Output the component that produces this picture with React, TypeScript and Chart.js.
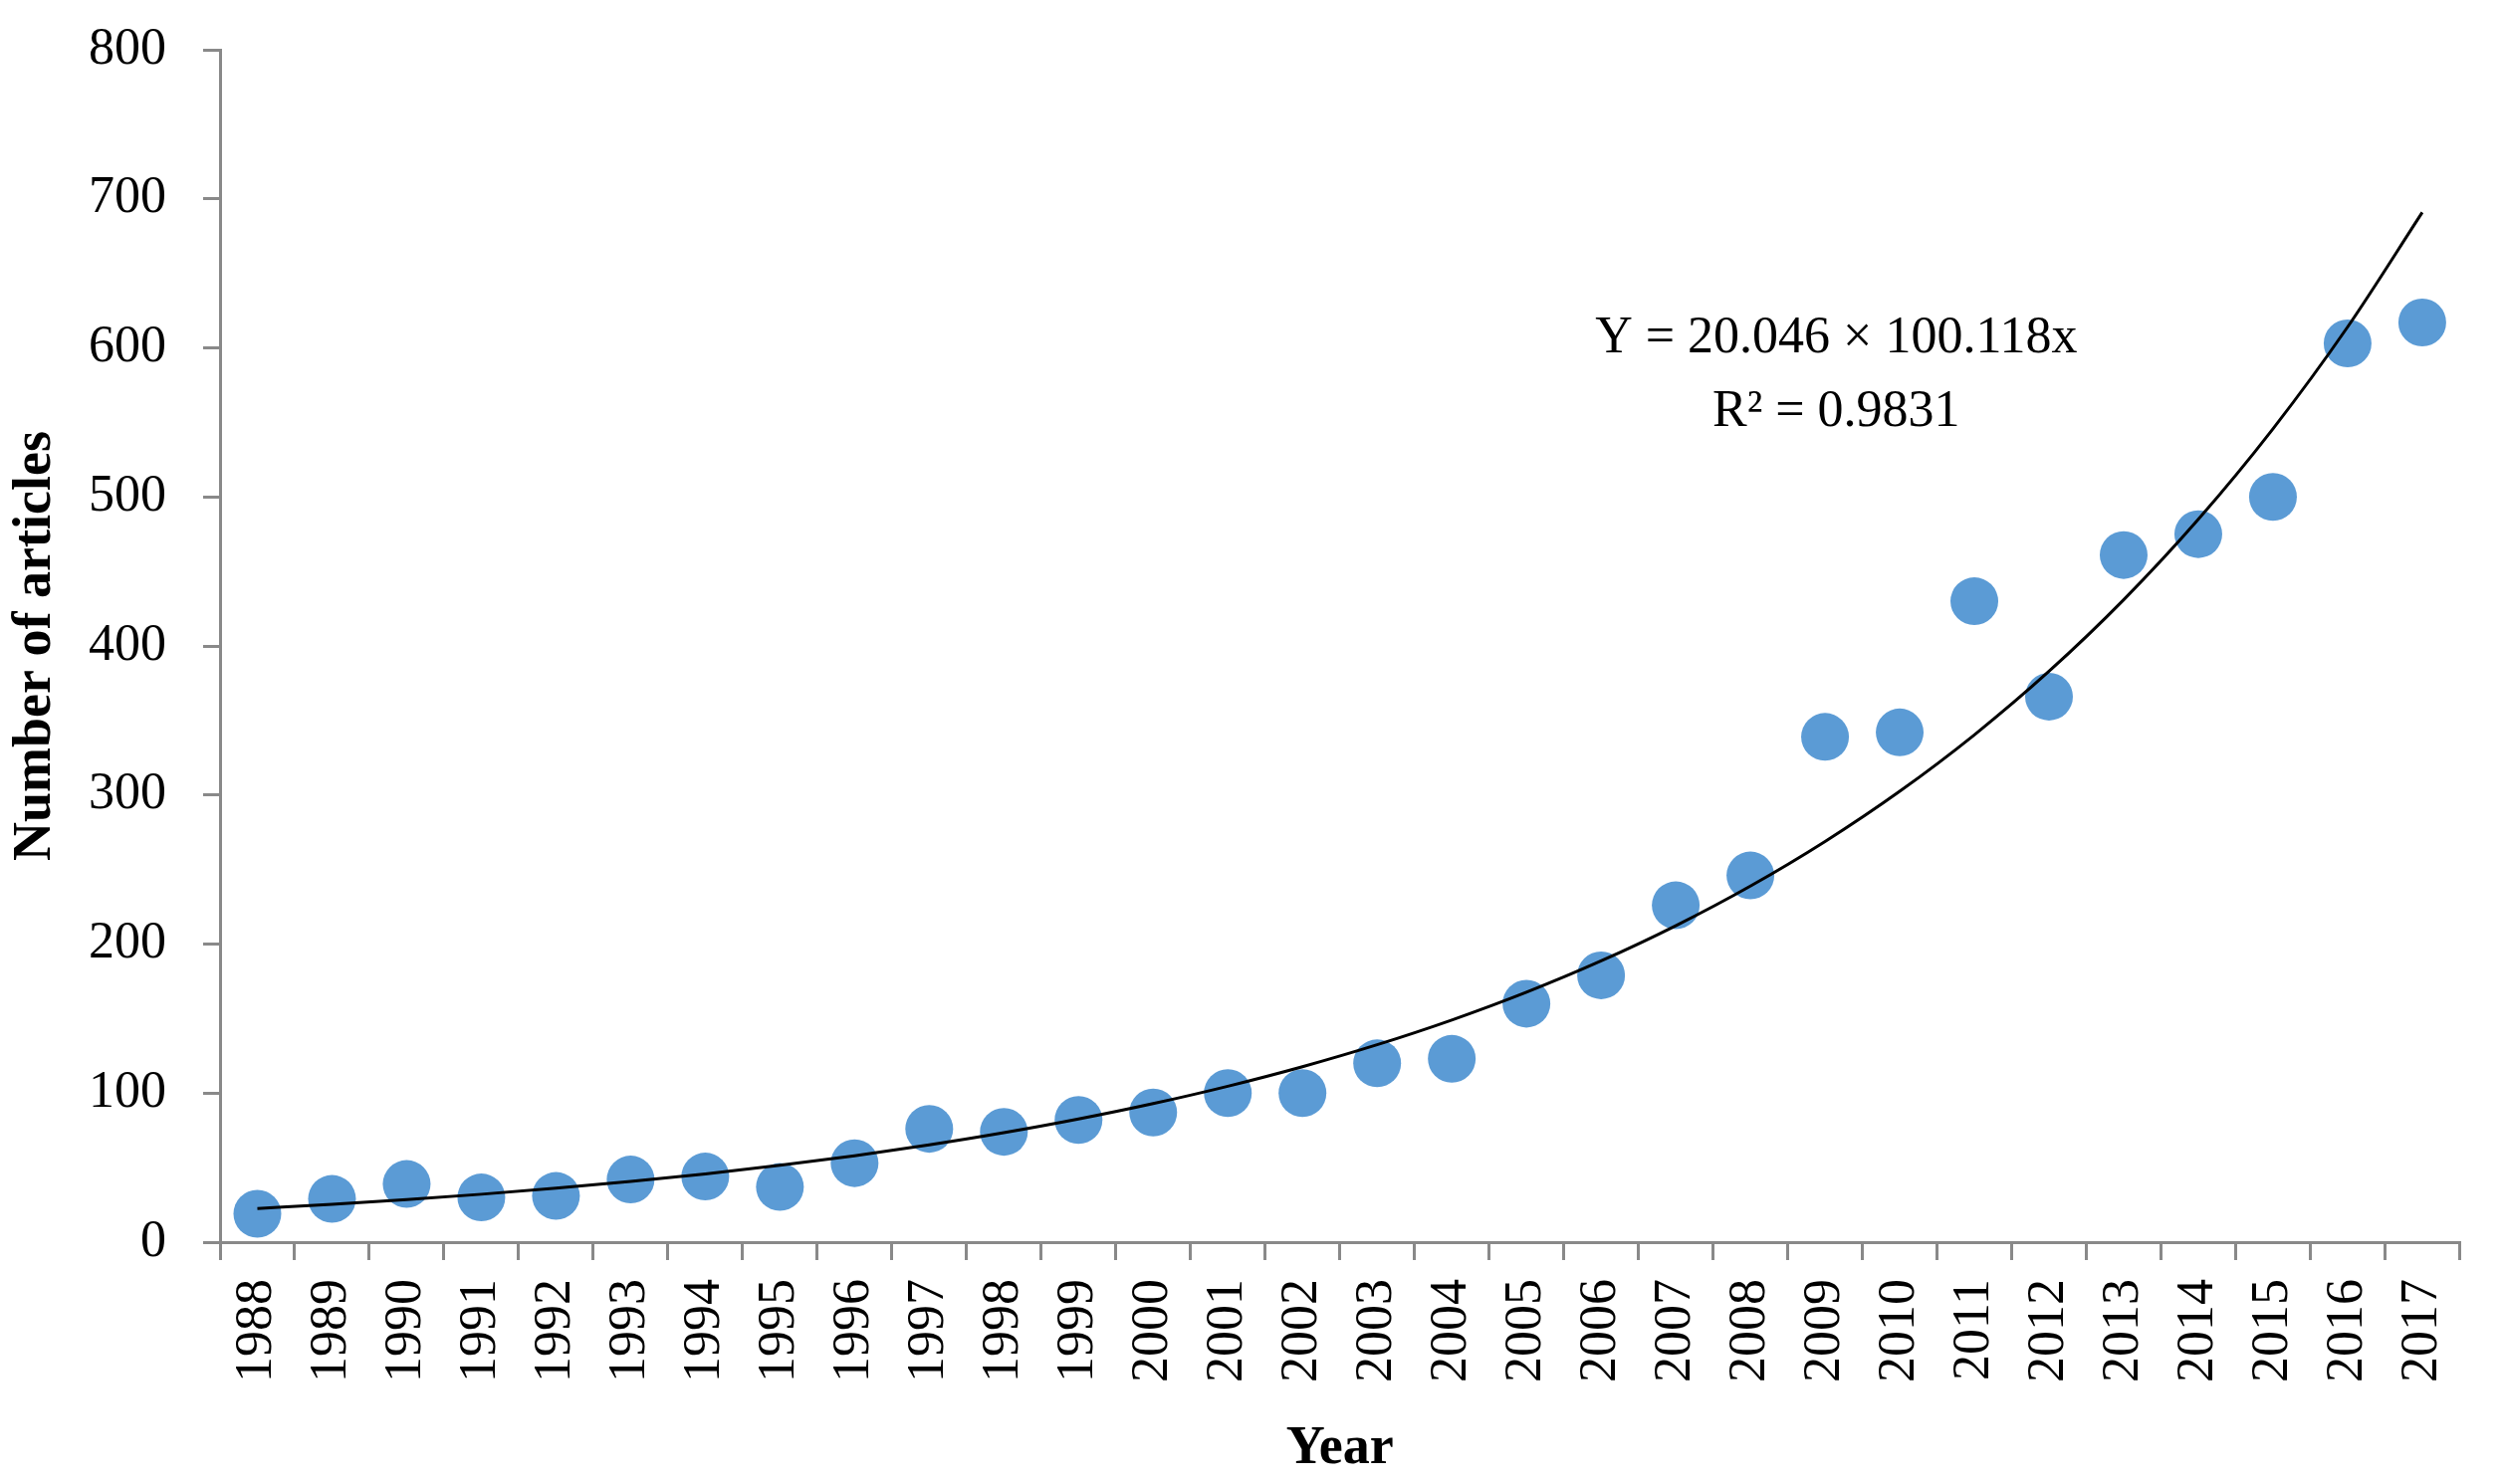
import { useEffect, useRef } from 'react';
import { Chart, registerables } from 'chart.js';

Chart.register(...registerables);

const years = [
  '1988', '1989', '1990', '1991', '1992', '1993', '1994', '1995', '1996', '1997',
  '1998', '1999', '2000', '2001', '2002', '2003', '2004', '2005', '2006', '2007',
  '2008', '2009', '2010', '2011', '2012', '2013', '2014', '2015', '2016', '2017',
];
const articles = [
  19, 29, 39, 30, 31, 42, 44, 37, 53, 76,
  74, 82, 87, 100, 100, 120, 123, 160, 179, 226,
  246, 339, 342, 430, 366, 461, 475, 500, 603, 617,
];
const yTicks = [0, 100, 200, 300, 400, 500, 600, 700, 800];

// exponential trend as printed on the chart (x = 1 for the first year)
const trendA = 20.046;
const trendB = 0.118;
const trend = years.map((_, i) => trendA * Math.exp(trendB * (i + 1)));

const equationLines = ['Y = 20.046 × 100.118x', 'R² = 0.9831'];
const equationAt = { x: 21.15, y: [606, 557] };

const serif = 'Liberation Serif, Times New Roman, serif';
const axisGray = '#898989';

const equationPlugin = {
  id: 'equation',
  afterDatasetsDraw(chart: Chart) {
    const { ctx, scales } = chart;
    const x = scales.x.getPixelForValue(equationAt.x);
    ctx.save();
    ctx.font = `52px ${serif}`;
    ctx.fillStyle = '#000';
    ctx.textAlign = 'center';
    ctx.textBaseline = 'middle';
    equationLines.forEach((t, i) => {
      ctx.fillText(t, x, scales.y.getPixelForValue(equationAt.y[i]));
    });
    ctx.restore();
  },
};

export default function App() {
  const canvasRef = useRef<HTMLCanvasElement>(null);
  const chartRef = useRef<Chart | null>(null);

  useEffect(() => {
    document.body.style.margin = '0';
    document.body.style.overflow = 'hidden';
    if (!canvasRef.current) return;
    chartRef.current?.destroy();
    chartRef.current = new Chart(canvasRef.current, {
      type: 'line',
      data: {
        labels: years,
        datasets: [
          {
            label: 'Trend',
            data: trend,
            borderColor: '#000',
            borderWidth: 3,
            pointRadius: 0,
            cubicInterpolationMode: 'monotone',
            fill: false,
            order: 0,
          },
          {
            label: 'Number of articles',
            data: articles,
            showLine: false,
            pointRadius: 24,
            pointBackgroundColor: '#5B9BD5',
            pointBorderWidth: 0,
            order: 1,
          },
        ],
      },
      options: {
        responsive: true,
        maintainAspectRatio: false,
        animation: false,
        devicePixelRatio: 1,
        layout: { padding: { top: 50, right: 42, left: 0, bottom: 0 } },
        plugins: { legend: { display: false }, tooltip: { enabled: false } },
        scales: {
          x: {
            offset: true,
            grid: { offset: true, drawOnChartArea: false, drawTicks: true, tickLength: 18, color: axisGray, lineWidth: 3 },
            border: { display: true, color: axisGray, width: 3 },
            ticks: {
              font: { family: serif, size: 52 },
              color: '#000',
              maxRotation: 90,
              minRotation: 90,
              padding: 19,
              autoSkip: false,
            },
            title: {
              display: true,
              text: 'Year',
              color: '#000',
              font: { family: serif, size: 54, weight: 'bold', lineHeight: 1 },
              padding: { top: 0, bottom: 8 },
            },
            afterFit: (s: any) => { s.height = 243; },
          },
          y: {
            min: 0,
            max: 800,
            afterBuildTicks: (s: any) => { s.ticks = yTicks.map((v) => ({ value: v })); },
            grid: { drawOnChartArea: false, drawTicks: true, tickLength: 17, color: axisGray, lineWidth: 3 },
            border: { display: true, color: axisGray, width: 3 },
            ticks: {
              font: { family: serif, size: 52 },
              color: '#000',
              padding: 37,
            },
            title: {
              display: true,
              text: 'Number of articles',
              color: '#000',
              font: { family: serif, size: 54, weight: 'bold', lineHeight: 1.2 },
              padding: { top: 4, bottom: 0 },
            },
            afterFit: (s: any) => {
              s.width = 221;
              s.paddingTop = 0;
              s.paddingBottom = 0;
            },
          },
        },
      },
      plugins: [equationPlugin],
    });
    return () => { chartRef.current?.destroy(); };
  }, []);

  return (
    <div style={{ position: 'fixed', left: 0, top: 0, width: 2515, height: 1491 }}>
      <canvas ref={canvasRef} />
    </div>
  );
}
